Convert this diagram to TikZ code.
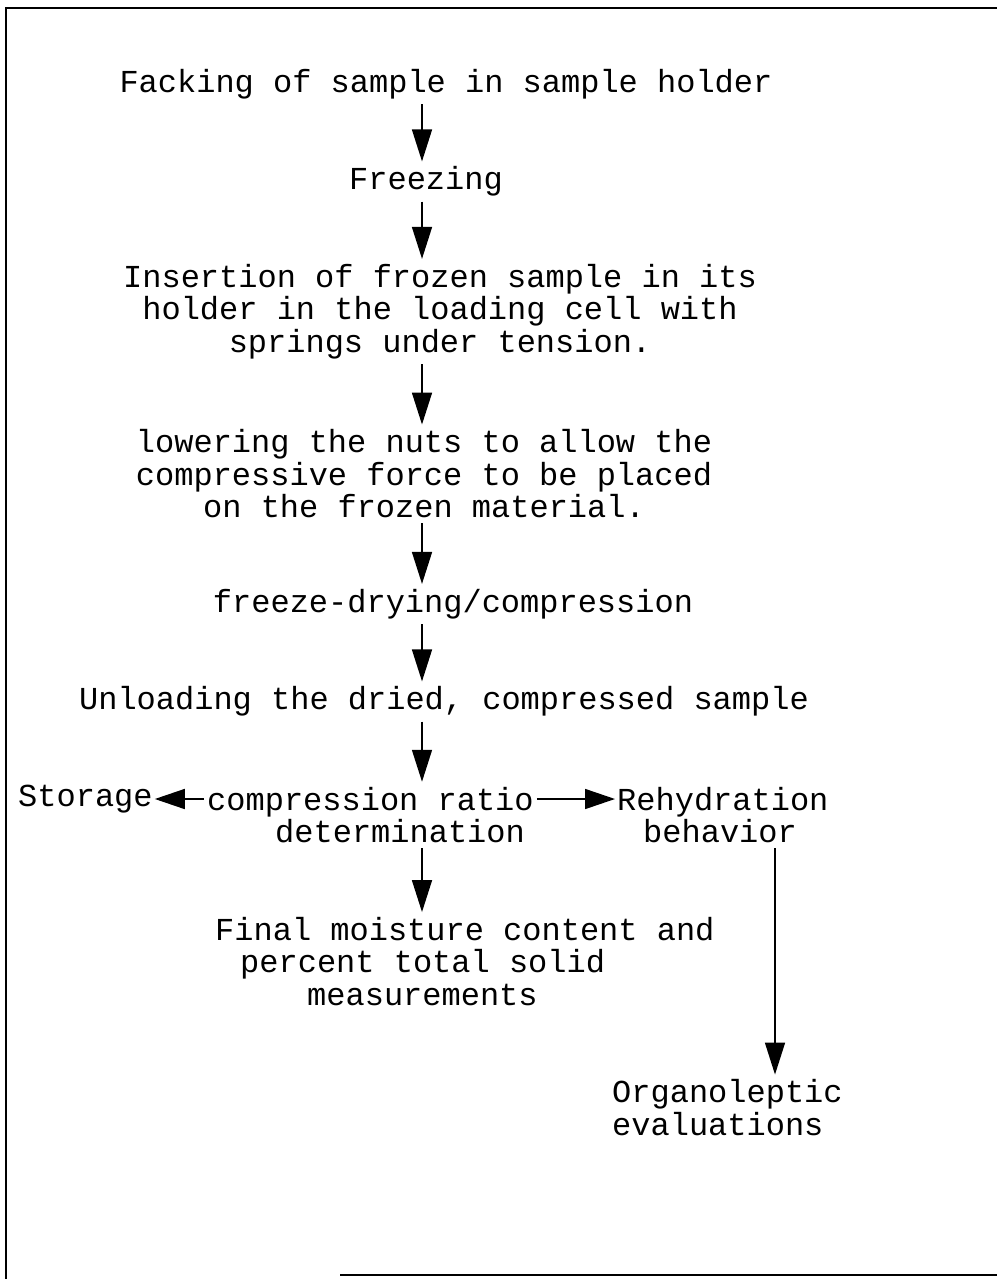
\documentclass[tikz,border=0pt]{standalone}
\usepackage{fontspec}
\setmonofont{Liberation Mono}
\usetikzlibrary{arrows.meta,calc}
\begin{document}
\begin{tikzpicture}[x=1pt,y=-1pt,
  lbl/.style={font=\ttfamily\fontsize{32}{32.5}\selectfont, inner sep=0pt, align=center},
  lbll/.style={lbl, align=left},
  arr/.style={line width=1.6pt, shorten <=5pt, shorten >=5pt, -{Triangle[length=32pt,width=20pt]}},
  harr/.style={line width=1.6pt, shorten <=3pt, shorten >=2pt, -{Triangle[length=30pt,width=20pt]}},
  frame/.style={line width=1.8pt}]
\useasboundingbox (0,0) rectangle (997,1279);
\draw[frame] (6,1279) -- (6,8) -- (997,8);
\draw[frame] (340,1275) -- (997,1275);

\coordinate (col) at (422,0);
\coordinate (col2) at (775,0);

\node[lbl] (n1) at (446,84) {Facking of sample in sample holder};
\node[lbl] (n2) at (426,181.5) {Freezing};
\node[lbl] (n3) at (440,311.5) {Insertion of frozen sample in its\\holder in the loading cell with\\springs under tension.};
\node[lbl] (n4) at (424,474) {lowering the nuts to allow the\\compressive force to be placed\\on the frozen material.};
\node[lbl] (n5) at (453,604) {freeze-drying/compression};
\node[lbl] (n6) at (444,701.5) {Unloading the dried, compressed sample};
\node[lbl, anchor=west] (st) at (18,799) {Storage};
\node[lbll, anchor=west] (cr) at (207,815) {compression ratio\\\hspace*{68pt}determination};
\node[lbll, anchor=west] (rh) at (617,815) {Rehydration\\\hspace*{26pt}behavior};
\node[lbll, anchor=west] (fm) at (215,961.5) {Final moisture content and\\\hspace*{25pt}percent total solid\\\hspace*{92pt}measurements};
\node[lbll, anchor=west] (og) at (612,1107.75) {Organoleptic\\evaluations};

\draw[arr] (col |- n1.south) -- (col |- n2.north);
\draw[arr] (col |- n2.south) -- (col |- n3.north);
\draw[arr] (col |- n3.south) -- (col |- n4.north);
\draw[arr] (col |- n4.south) -- (col |- n5.north);
\draw[arr] (col |- n5.south) -- (col |- n6.north);
\draw[arr] (col |- n6.south) -- (col |- cr.north);
\draw[arr] (col |- cr.south) -- (col |- fm.north);
\draw[arr] (col2 |- rh.south) -- (col2 |- og.north);
\draw[harr] (st -| cr.west) -- (st.east);
\draw[harr] (st -| cr.east) -- (st -| rh.west);
\end{tikzpicture}
\end{document}
